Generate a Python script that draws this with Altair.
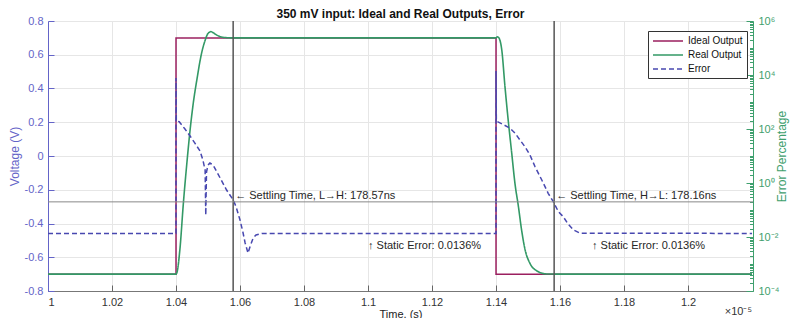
import altair as alt
import pandas as pd

FONT = "Liberation Sans"

# ---------------- data (time in units of 1e-5 s) ----------------
series_names = ["Ideal Output", "Real Output", "Error"]
series_colors = ["#9B1F5F", "#339966", "#4848B0"]

time_ideal = [1.00, 1.04, 1.04, 1.14, 1.14, 1.22]
volt_ideal = [-0.7, -0.7, 0.7, 0.7, -0.7, -0.7]

time_real = [1.00, 1.0400, 1.0403, 1.0412, 1.0423, 1.0436, 1.0444, 1.0454, 1.0465,
             1.0480, 1.0490, 1.0498, 1.0504, 1.0509, 1.0515, 1.0527, 1.0548, 1.0580,
             1.1400, 1.1404, 1.1409, 1.1418, 1.1428, 1.1438, 1.1449, 1.1459, 1.1470,
             1.1480, 1.1491, 1.1506, 1.1527, 1.1558, 1.1600, 1.22]
volt_real = [-0.7, -0.7, -0.69, -0.557, -0.28, 0.0, 0.154, 0.314, 0.45,
             0.61, 0.68, 0.72, 0.733, 0.737, 0.732, 0.717, 0.703, 0.700,
             0.700, 0.707, 0.700, 0.628, 0.41, 0.213, 0.018, -0.16, -0.30,
             -0.44, -0.557, -0.636, -0.68, -0.699, -0.700, -0.700]

time_err = [1.00, 1.04, 1.04, 1.0401, 1.0410, 1.0428, 1.0444, 1.0459, 1.0475, 1.0484,
            1.0491, 1.0493, 1.04953, 1.0500, 1.0506, 1.0516, 1.0538, 1.0558, 1.0579,
            1.0588, 1.0600, 1.0609, 1.0616, 1.0625, 1.0631, 1.0641, 1.0650, 1.0669,
            1.14, 1.14, 1.1401, 1.1425, 1.1444, 1.1459, 1.1475, 1.1491, 1.1506, 1.1522,
            1.1543, 1.1563, 1.1579, 1.1595, 1.1610, 1.1625, 1.1642, 1.1663, 1.22]
err_pct = [0.0136, 0.0136, 7700, 200, 186, 100, 55, 30, 15.3, 7.1,
           3.0, 0.065, 2.55, 4.6, 5.5, 4.6, 1.53, 0.55, 0.234,
           0.129, 0.0426, 0.0153, 0.0060, 0.00255, 0.00426, 0.0092, 0.0119, 0.0136,
           0.0136, 14000, 195, 141, 106, 71, 39, 21.5, 10.9, 4.0,
           1.29, 0.416, 0.203, 0.0865, 0.0565, 0.0303, 0.0182, 0.0137, 0.0136]

settle_times = [1.057857, 1.158160]
settle_labels = ["\u2190 Settling Time, L\u2192H: 178.57ns", "\u2190 Settling Time, H\u2192L: 178.16ns"]
settle_threshold = [0.2, 0.2]
static_times = [1.10, 1.17]
static_err = [0.0136, 0.0136]
static_labels = ["\u2191 Static Error: 0.0136%", "\u2191 Static Error: 0.0136%"]

x_ticks = [1.0, 1.02, 1.04, 1.06, 1.08, 1.1, 1.12, 1.14, 1.16, 1.18, 1.2]
v_ticks = [-0.8, -0.6, -0.4, -0.2, 0.0, 0.2, 0.4, 0.6, 0.8]
log_major = [1e-4, 1e-2, 1.0, 1e2, 1e4, 1e6]
log_labels = ["10\u207b\u2074", "10\u207b\u00b2", "10\u2070", "10\u00b2", "10\u2074", "10\u2076"]
log_minor = [m * 10.0 ** e for e in range(-4, 6) for m in range(1, 10)] + [1e6]
x_exp_pos = [1.22]
x_exp_text = ["\u00d710\u207b\u2075"]

# ---------------- frames ----------------
df_ideal = pd.DataFrame({"t": time_ideal, "v": volt_ideal, "series": series_names[0],
                         "i": list(range(len(time_ideal)))})
df_real = pd.DataFrame({"t": time_real, "v": volt_real, "series": series_names[1],
                        "i": list(range(len(time_real)))})
df_err = pd.DataFrame({"t": time_err, "e": err_pct, "series": series_names[2],
                       "i": list(range(len(time_err)))})
df_settle = pd.DataFrame({"t": settle_times, "e": settle_threshold, "label": settle_labels})
df_static = pd.DataFrame({"t": static_times, "e": static_err, "label": static_labels})
df_exp = pd.DataFrame({"t": x_exp_pos, "label": x_exp_text})

W, H = 705, 270
LEFT_C = "#6464C8"
RIGHT_C = "#3FA06E"
GRID_C = "#E6E6E6"

xs = alt.Scale(domain=[1.0, 1.2203], nice=False, zero=False)
vs = alt.Scale(domain=[-0.8, 0.8], nice=False, zero=False)
ls = alt.Scale(type="log", domain=[1e-4, 1e6], nice=False)

color_scale = alt.Scale(domain=series_names, range=series_colors)
dash_scale = alt.Scale(domain=series_names, range=[[1, 0], [1, 0], [5, 3]])

legend = alt.Legend(title=None, orient="none", legendX=600, legendY=10,
                    symbolType="M-1,0H5", symbolSize=100, symbolStrokeWidth=1.5,
                    symbolFillColor="transparent",
                    labelFontSize=10, labelFont=FONT, labelColor="#111",
                    labelOffset=24, rowPadding=3,
                    strokeColor="#333", fillColor="white", padding=4)

color_enc = alt.Color("series:N", scale=color_scale, legend=legend)
dash_enc = alt.StrokeDash("series:N", scale=dash_scale, legend=legend)

x_main_axis = alt.Axis(title="Time, (s)", values=x_ticks,
                       labelExpr="format(datum.value, '~g')",
                       grid=True, gridColor=GRID_C, ticks=False,
                       domainColor="#777", labelColor="#333", labelFontSize=11,
                       titleFontSize=11, titleFontWeight="normal", titleColor="#222",
                       labelPadding=5, titlePadding=1, labelFont=FONT, titleFont=FONT)

v_axis = alt.Axis(orient="left", title="Voltage (V)", values=v_ticks,
                  labelExpr="replace(format(datum.value, '~g'), '\u2212', '-')",
                  grid=True, gridColor=GRID_C, ticks=False,
                  domainColor=LEFT_C, labelColor=LEFT_C, titleColor=LEFT_C,
                  labelFontSize=11, titleFontSize=12, titleFontWeight="normal",
                  labelPadding=5, titlePadding=3, labelFont=FONT, titleFont=FONT)

log_expr = ("datum.value < 1e-3 ? '%s' : datum.value < 0.1 ? '%s' : datum.value < 10 ? '%s' : "
            "datum.value < 1000 ? '%s' : datum.value < 1e5 ? '%s' : '%s'") % tuple(log_labels)

e_axis = alt.Axis(orient="right", title="Error Percentage", values=log_major,
                  labelExpr=log_expr, grid=False, ticks=False,
                  domainColor=RIGHT_C, labelColor=RIGHT_C, titleColor=RIGHT_C,
                  labelFontSize=11, titleFontSize=12, titleFontWeight="normal",
                  labelPadding=5, titlePadding=10, titleAngle=270,
                  labelFont=FONT, titleFont=FONT)

ideal = alt.Chart(df_ideal).mark_line(strokeWidth=1.5, clip=True).encode(
    x=alt.X("t:Q", scale=xs, axis=x_main_axis),
    y=alt.Y("v:Q", scale=vs, axis=v_axis),
    color=color_enc, strokeDash=dash_enc, order="i:Q",
)

real = alt.Chart(df_real).mark_line(strokeWidth=1.6, clip=True, interpolate="monotone").encode(
    x=alt.X("t:Q", scale=xs, axis=None),
    y=alt.Y("v:Q", scale=vs, axis=None),
    color=color_enc, strokeDash=dash_enc, order="i:Q",
)

error = alt.Chart(df_err).mark_line(strokeWidth=1.5, clip=True).encode(
    x=alt.X("t:Q", scale=xs, axis=None),
    y=alt.Y("e:Q", scale=ls, axis=e_axis),
    color=color_enc, strokeDash=dash_enc, order="i:Q",
)

settle_rules = alt.Chart(df_settle).mark_rule(color="#555555", strokeWidth=1.5).encode(
    x=alt.X("t:Q", scale=xs, axis=None),
)

thresh_rule = alt.Chart(df_settle.iloc[:1]).mark_rule(color="#888888", strokeWidth=1).encode(
    y=alt.Y("e:Q", scale=ls, axis=None),
)

settle_text = alt.Chart(df_settle).mark_text(align="left", baseline="bottom", dx=2, dy=-1,
                                             fontSize=11, font=FONT, color="#262626").encode(
    x=alt.X("t:Q", scale=xs, axis=None),
    y=alt.Y("e:Q", scale=ls, axis=None),
    text="label:N",
)

static_text = alt.Chart(df_static).mark_text(align="left", baseline="top", dy=7,
                                             fontSize=11, font=FONT, color="#262626").encode(
    x=alt.X("t:Q", scale=xs, axis=None),
    y=alt.Y("e:Q", scale=ls, axis=None),
    text="label:N",
)

exp_text = alt.Chart(df_exp).mark_text(align="right", baseline="middle", fontSize=11,
                                       font=FONT, color="#333").encode(
    x=alt.X("t:Q", scale=xs, axis=None),
    y=alt.value(H + 21),
    text="label:N",
)

# inward ticks for x (bottom) and left voltage axis
ticks_xv = alt.Chart(df_ideal).mark_point(opacity=0).encode(
    x=alt.X("t:Q", scale=xs, axis=alt.Axis(orient="top", offset=-H, values=x_ticks, labels=False,
                                           domain=False, grid=False, tickSize=6,
                                           tickColor="#666", title=None)),
    y=alt.Y("v:Q", scale=vs, axis=alt.Axis(orient="right", offset=-W, values=v_ticks, labels=False,
                                           domain=False, grid=False, tickSize=6,
                                           tickColor=LEFT_C, title=None)),
)

# inward ticks for right log axis (major and minor)
ticks_log = alt.Chart(df_err).mark_point(opacity=0).encode(
    x=alt.X("t:Q", scale=xs, axis=None),
    y=alt.Y("e:Q", scale=ls, axis=alt.Axis(
        orient="left", offset=-W, values=log_minor, labels=False, domain=False, grid=False,
        tickColor=RIGHT_C, title=None,
        tickSize={"condition": {"test": "abs(log(datum.value)/LN10/2 - round(log(datum.value)/LN10/2)) < 0.001",
                                "value": 7}, "value": 3.5})),
)

chart = alt.layer(
    ideal, real, error, settle_rules, thresh_rule, settle_text, static_text, exp_text,
    ticks_xv, ticks_log,
).resolve_scale(
    y="independent"
).resolve_axis(
    x="independent", y="independent"
).properties(
    width=W, height=H,
    title=alt.TitleParams("350 mV input: Ideal and Real Outputs, Error", fontSize=12,
                          fontWeight="bold", font=FONT, color="#111", anchor="middle",
                          offset=1, dy=7),
    autosize=alt.AutoSizeParams(type="none"),
    padding={"left": 40, "top": 13, "right": 37, "bottom": 27},
).configure(font=FONT).configure_view(stroke="#D0D0D0")

chart.save("out.html", embed_options={"renderer": "svg", "actions": False})
